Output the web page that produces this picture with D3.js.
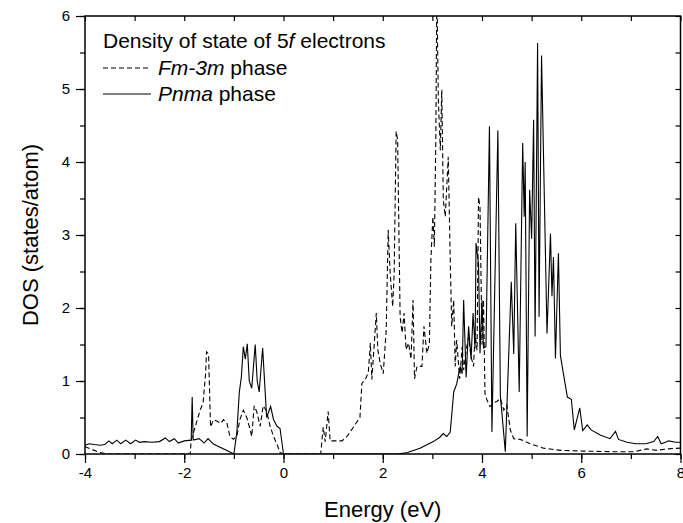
<!DOCTYPE html>
<html>
<head>
<meta charset="utf-8">
<script src="https://cdn.jsdelivr.net/npm/d3@7"></script>
<style>
  body { margin: 0; background: #fff; }
  svg { display: block; font-family: "Liberation Sans", Arial, sans-serif; }
</style>
</head>
<body>
<svg id="chart"></svg>
<script>
// Fm-3m phase (dashed)
const fmEnergy = [-4.0, -3.85, -3.7, -3.55, -1.88, -1.86, -1.78, -1.68, -1.62, -1.57, -1.55, -1.51, -1.47, -1.41, -1.34, -1.26, -1.21, -1.14, -1.08, -1.01,
  -0.94, -0.88, -0.81, -0.74, -0.67, -0.64, -0.59, -0.54, -0.47, -0.41, -0.34, -0.27, -0.2, -0.13, -0.07, 0.0,
  0.75, 0.77, 0.8, 0.84, 0.9, 0.94, 1.0, 1.18, 1.28, 1.41, 1.54, 1.58, 1.65, 1.71, 1.75, 1.78, 1.83, 1.87, 1.9, 1.95,
  2.01, 2.07, 2.11, 2.15, 2.2, 2.23, 2.27, 2.3, 2.35, 2.39, 2.43, 2.47, 2.52, 2.57, 2.61, 2.64, 2.69, 2.73, 2.79, 2.83,
  2.89, 2.94, 2.97, 3.01, 3.04, 3.07, 3.09, 3.12, 3.16, 3.19, 3.22, 3.26, 3.29, 3.32, 3.36, 3.39, 3.43, 3.46, 3.49,
  3.55, 3.6, 3.63, 3.68, 3.73, 3.78, 3.83, 3.86, 3.9, 3.93, 3.96, 4.0, 4.03, 4.06, 4.1, 4.16, 4.23, 4.3, 4.37, 4.44,
  4.5, 4.57, 4.64, 4.77, 4.97, 5.24, 5.58, 6.05, 6.72, 7.06, 7.19, 7.32, 7.52, 7.73, 8.0];
const fmDos = [0.1, 0.06, 0.02, 0.0, 0.0, 0.19, 0.37, 0.6, 0.7, 1.1, 1.4, 1.37, 0.37, 0.47, 0.45, 0.42, 0.47, 0.42, 0.24, 0.2,
  0.24, 0.47, 0.6, 0.5, 0.33, 0.24, 0.66, 0.58, 0.38, 0.66, 0.59, 0.38, 0.24, 0.13, 0.02, 0.0,
  0.0, 0.15, 0.37, 0.17, 0.58, 0.18, 0.18, 0.18, 0.24, 0.37, 0.5, 0.97, 1.02, 1.12, 1.52, 1.02, 1.52, 1.93, 1.43, 1.24,
  1.1, 1.7, 3.07, 2.47, 2.02, 2.47, 4.42, 4.3, 1.88, 1.66, 1.93, 1.43, 1.52, 1.3, 2.11, 1.03, 1.2, 1.2, 1.2, 1.75,
  1.38, 1.51, 2.66, 3.25, 2.84, 4.34, 6.4, 4.85, 4.16, 4.99, 3.48, 3.25, 3.66, 4.07, 2.66, 1.75, 2.11, 1.2, 1.56,
  1.03, 1.47, 1.15, 1.42, 1.6, 1.33, 1.2, 1.66, 1.42, 3.52, 3.38, 1.5, 2.11, 0.83, 0.74, 0.65, 0.7, 0.72, 0.76, 0.6,
  0.67, 0.33, 0.21, 0.2, 0.14, 0.08, 0.05, 0.04, 0.03, 0.03, 0.05, 0.07, 0.05, 0.07, 0.08];

// Pnma phase (solid)
const pnEnergy = [-4.0, -3.92, -3.82, -3.7, -3.6, -3.52, -3.45, -3.36, -3.28, -3.18, -3.08, -2.98, -2.9, -2.8, -2.65, -2.5, -2.38, -2.3, -2.2, -2.12,
  -2.0, -1.86, -1.84, -1.82, -1.7, -1.6, -1.52, -1.42, -1.3, -1.15, -1.0, -0.94, -0.89, -0.85, -0.81, -0.77, -0.73, -0.69, -0.64, -0.57,
  -0.53, -0.49, -0.42, -0.34, -0.26, -0.2, -0.13, -0.07, -0.03, 0.0, 2.3, 2.5, 2.75, 3.02, 3.15, 3.22, 3.29, 3.36, 3.43, 3.49,
  3.56, 3.6, 3.63, 3.68, 3.73, 3.78, 3.82, 3.86, 3.88, 3.93, 3.96, 4.0, 4.03, 4.08, 4.15, 4.2, 4.32, 4.37, 4.47, 4.59,
  4.64, 4.68, 4.75, 4.82, 4.85, 4.87, 4.91, 4.96, 5.0, 5.04, 5.07, 5.12, 5.15, 5.2, 5.31, 5.38, 5.41, 5.44, 5.48, 5.54,
  5.58, 5.64, 5.72, 5.8, 5.86, 5.94, 5.97, 6.03, 6.12, 6.2, 6.38, 6.58, 6.69, 6.75, 6.92, 7.1, 7.3, 7.46, 7.54, 7.61,
  7.7, 7.76, 7.9, 8.0];
const pnDos = [0.12, 0.14, 0.13, 0.12, 0.13, 0.18, 0.14, 0.19, 0.14, 0.19, 0.14, 0.19, 0.16, 0.17, 0.16, 0.17, 0.22, 0.17, 0.21, 0.15,
  0.18, 0.19, 0.78, 0.19, 0.21, 0.15, 0.21, 0.14, 0.1, 0.05, 0.0, 0.3, 0.85, 1.05, 1.47, 1.3, 1.51, 1.0, 0.9, 1.5,
  1.0, 0.85, 1.45, 0.5, 0.65, 0.47, 0.38, 0.35, 0.15, 0.0, 0.0, 0.02, 0.08, 0.17, 0.23, 0.28, 0.24, 0.3, 0.85, 0.96,
  1.2, 1.1, 2.11, 1.05, 1.75, 1.3, 1.93, 1.45, 2.89, 2.6, 1.38, 2.11, 1.45, 1.47, 4.49, 0.3, 4.43, 0.8, 0.03, 2.36,
  1.37, 3.16, 0.85, 4.26, 3.25, 4.0, 0.24, 3.62, 2.95, 4.58, 1.61, 5.63, 1.88, 5.46, 1.65, 3.02, 2.16, 2.7, 1.31, 2.75,
  1.35, 1.1, 0.78, 0.75, 0.33, 0.55, 0.63, 0.32, 0.4, 0.33, 0.26, 0.21, 0.31, 0.2, 0.16, 0.14, 0.14, 0.17, 0.24, 0.14,
  0.16, 0.18, 0.16, 0.16];

const xTicks = [-4, -2, 0, 2, 4, 6, 8];
const yTicks = [0, 1, 2, 3, 4, 5, 6];

const W = 683, H = 523;
const margin = { top: 16, right: 2.5, bottom: 69, left: 85 };
const width = W - margin.left - margin.right;
const height = H - margin.top - margin.bottom;

const svg = d3.select('#chart').attr('width', W).attr('height', H);
const g = svg.append('g').attr('transform', `translate(${margin.left},${margin.top})`);

const x = d3.scaleLinear().domain([-4, 8]).range([0, width]);
const y = d3.scaleLinear().domain([0, 6]).range([height, 0]);

svg.append('defs').append('clipPath').attr('id', 'clip')
  .append('rect').attr('width', width).attr('height', height);

const line = d3.line().x(d => x(d[0])).y(d => y(d[1]));

const fmData = fmEnergy.map((e, i) => [e, fmDos[i]]);
const pnData = pnEnergy.map((e, i) => [e, pnDos[i]]);

const curves = g.append('g').attr('clip-path', 'url(#clip)');
curves.append('path').datum(fmData)
  .attr('d', line).attr('fill', 'none').attr('stroke', '#000')
  .attr('stroke-width', 1.1).attr('stroke-dasharray', '5,3');
curves.append('path').datum(pnData)
  .attr('d', line).attr('fill', 'none').attr('stroke', '#000')
  .attr('stroke-width', 1.1);

// axes: bottom + left outward, top + right inward
const minorX = d3.range(-4, 8.01, 1);
const minorY = d3.range(0, 6.01, 0.5);
const plain = d => String(d); // hyphen minus like the original, not the unicode minus

const styleAxis = sel => {
  sel.select('.domain').remove();
  sel.selectAll('line').attr('stroke', '#000').attr('stroke-width', 1.2);
  sel.selectAll('text').attr('fill', '#000').style('font-size', '15px');
};

g.append('g').attr('transform', `translate(0,${height})`)
  .call(d3.axisBottom(x).tickValues(minorX).tickSize(5).tickFormat(''))
  .call(styleAxis);
g.append('g').attr('transform', `translate(0,${height})`)
  .call(d3.axisBottom(x).tickValues(xTicks).tickSize(9).tickPadding(4).tickFormat(plain))
  .call(styleAxis);

g.append('g')
  .call(d3.axisLeft(y).tickValues(minorY).tickSize(5).tickFormat(''))
  .call(styleAxis);
g.append('g')
  .call(d3.axisLeft(y).tickValues(yTicks).tickSize(9).tickPadding(6).tickFormat(plain))
  .call(styleAxis);

g.append('g')
  .call(d3.axisTop(x).tickValues(minorX).tickSize(-5).tickFormat(''))
  .call(styleAxis);
g.append('g').attr('transform', `translate(${width},0)`)
  .call(d3.axisRight(y).tickValues(minorY).tickSize(-5).tickFormat(''))
  .call(styleAxis);

// frame
g.append('rect').attr('width', width).attr('height', height)
  .attr('fill', 'none').attr('stroke', '#000').attr('stroke-width', 1.5);

// axis titles
svg.append('text')
  .attr('x', margin.left + width / 2).attr('y', 517)
  .attr('text-anchor', 'middle').style('font-size', '22px')
  .text('Energy (eV)');
svg.append('text')
  .attr('transform', `translate(38,${margin.top + height / 2}) rotate(-90)`)
  .attr('text-anchor', 'middle').style('font-size', '22px')
  .text('DOS (states/atom)');

// legend
const legend = svg.append('g').style('font-size', '21px');
const title = legend.append('text').attr('x', 103).attr('y', 48);
title.append('tspan').text('Density of state of 5');
title.append('tspan').style('font-style', 'italic').text('f');
title.append('tspan').text(' electrons');

const items = [
  { name: 'Fm-3m', dash: '5,3', y: 68 },
  { name: 'Pnma', dash: null, y: 94 }
];
items.forEach(it => {
  legend.append('line')
    .attr('x1', 103).attr('x2', 151).attr('y1', it.y).attr('y2', it.y)
    .attr('stroke', '#000').attr('stroke-width', 1.1)
    .attr('stroke-dasharray', it.dash);
  const t = legend.append('text').attr('x', 158).attr('y', it.y + 7);
  t.append('tspan').style('font-style', 'italic').text(it.name);
  t.append('tspan').text(' phase');
});
</script>
</body>
</html>
